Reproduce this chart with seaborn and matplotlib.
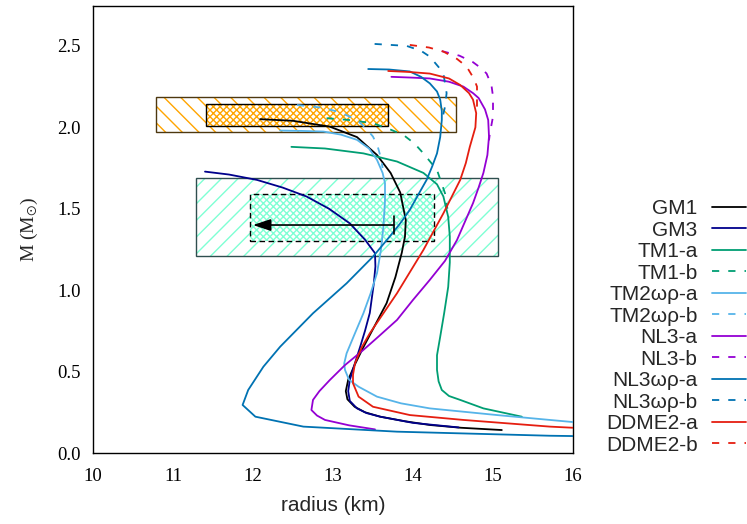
import matplotlib
matplotlib.use("Agg")
import matplotlib.pyplot as plt
import seaborn as sns
import pandas as pd
from matplotlib.patches import Rectangle

# ---------------- data (radius km, mass Msun) ----------------
GM1_r = [12.09, 12.5, 12.96, 13.3, 13.55, 13.72, 13.84, 13.91, 13.90, 13.86, 13.78, 13.67, 13.52, 13.38, 13.27, 13.19, 13.16, 13.18, 13.27, 13.40, 13.59, 13.9, 14.21, 14.6, 15.11]
GM1_m = [2.05, 2.04, 2.004, 1.94, 1.83, 1.72, 1.60, 1.43, 1.33, 1.23, 1.08, 0.92, 0.78, 0.65, 0.54, 0.45, 0.38, 0.33, 0.284, 0.25, 0.223, 0.195, 0.172, 0.155, 0.141]

GM3_r = [11.40, 11.7, 12.05, 12.37, 12.67, 12.95, 13.21, 13.40, 13.525, 13.53, 13.51, 13.46, 13.40, 13.34, 13.26, 13.21, 13.19, 13.21, 13.30, 13.42, 13.59, 14.0, 14.57]
GM3_m = [1.728, 1.71, 1.677, 1.63, 1.575, 1.50, 1.41, 1.31, 1.227, 1.145, 1.04, 0.86, 0.75, 0.653, 0.53, 0.448, 0.38, 0.32, 0.274, 0.245, 0.223, 0.185, 0.157]

TM1a_r = [12.48, 12.9, 13.38, 13.8, 14.13, 14.30, 14.38, 14.44, 14.46, 14.46, 14.44, 14.39, 14.34, 14.30, 14.30, 14.32, 14.36, 14.45, 14.59, 14.88, 15.36]
TM1a_m = [1.88, 1.87, 1.84, 1.79, 1.72, 1.65, 1.575, 1.45, 1.33, 1.17, 1.02, 0.86, 0.714, 0.60, 0.51, 0.44, 0.387, 0.35, 0.326, 0.274, 0.223]
TM1b_r = [12.92, 13.2, 13.50, 13.7, 13.88, 14.02, 14.13, 14.30, 14.40, 14.43]
TM1b_m = [2.056, 2.045, 2.025, 1.99, 1.953, 1.90, 1.84, 1.738, 1.595, 1.50]

TM2a_r = [12.34, 12.6, 12.88, 13.10, 13.30, 13.45, 13.55, 13.62, 13.65, 13.65, 13.63, 13.60, 13.55, 13.47, 13.38, 13.27, 13.17, 13.14, 13.15, 13.20, 13.32, 13.55, 13.85, 14.21, 15.05, 15.71, 16.0]
TM2a_m = [1.98, 1.978, 1.974, 1.955, 1.923, 1.87, 1.80, 1.72, 1.657, 1.55, 1.39, 1.25, 1.104, 0.98, 0.858, 0.73, 0.612, 0.55, 0.51, 0.45, 0.407, 0.346, 0.305, 0.274, 0.233, 0.203, 0.19]
TM2b_r = [12.55, 12.88, 13.10, 13.30, 13.42, 13.50, 13.56, 13.60, 13.62]
TM2b_m = [2.137, 2.12, 2.09, 2.045, 1.99, 1.943, 1.88, 1.81, 1.75]

NL3a_r = [13.73, 14.0, 14.21, 14.45, 14.63, 14.75, 14.82, 14.90, 14.94, 14.95, 14.93, 14.88, 14.82, 14.75, 14.55, 14.40, 14.21, 14.00, 13.80, 13.58, 13.38, 13.15, 12.96, 12.83, 12.75, 12.73, 12.80, 12.90, 13.2, 13.525]
NL3a_m = [2.31, 2.305, 2.30, 2.28, 2.25, 2.21, 2.18, 2.11, 2.045, 1.943, 1.83, 1.72, 1.63, 1.534, 1.308, 1.18, 1.063, 0.94, 0.817, 0.72, 0.633, 0.54, 0.448, 0.38, 0.326, 0.264, 0.23, 0.203, 0.17, 0.145]
NL3b_r = [14.36, 14.58, 14.75, 14.86, 14.92, 14.98, 15.00, 15.00, 14.96, 14.95]
NL3b_m = [2.468, 2.44, 2.40, 2.36, 2.33, 2.26, 2.19, 2.066, 1.96, 1.92]

NL3wr_a_r = [13.44, 13.70, 13.96, 14.10, 14.21, 14.30, 14.34, 14.36, 14.36, 14.34, 14.30, 14.24, 14.17, 14.07, 13.96, 13.84, 13.71, 13.50, 13.17, 12.75, 12.34, 12.13, 11.94, 11.87, 12.03, 12.63, 13.80, 15.71, 16.0]
NL3wr_a_m = [2.358, 2.355, 2.343, 2.31, 2.27, 2.22, 2.17, 2.10, 2.045, 1.94, 1.84, 1.76, 1.677, 1.59, 1.493, 1.41, 1.33, 1.206, 1.042, 0.858, 0.653, 0.53, 0.387, 0.295, 0.223, 0.162, 0.131, 0.106, 0.104]
NL3wr_b_r = [13.52, 13.92, 14.10, 14.21, 14.32, 14.38, 14.42, 14.40, 14.37]
NL3wr_b_m = [2.512, 2.50, 2.47, 2.434, 2.37, 2.33, 2.21, 2.127, 2.06]

DDME2a_r = [13.69, 13.95, 14.21, 14.45, 14.59, 14.70, 14.75, 14.79, 14.78, 14.71, 14.66, 14.59, 14.38, 14.13, 13.80, 13.46, 13.36, 13.275, 13.25, 13.25, 13.32, 13.50, 13.96, 14.63, 15.71, 16.0]
DDME2a_m = [2.346, 2.34, 2.33, 2.30, 2.26, 2.21, 2.17, 2.087, 2.00, 1.88, 1.78, 1.677, 1.472, 1.247, 0.981, 0.735, 0.65, 0.551, 0.48, 0.428, 0.346, 0.284, 0.233, 0.203, 0.162, 0.155]
DDME2b_r = [13.96, 14.20, 14.38, 14.55, 14.67, 14.76, 14.80, 14.80, 14.79]
DDME2b_m = [2.506, 2.49, 2.465, 2.42, 2.373, 2.30, 2.25, 2.127, 2.087]

labels = ["GM1", "GM3", "TM1-a", "TM1-b", "TM2ωρ-a", "TM2ωρ-b",
          "NL3-a", "NL3-b", "NL3ωρ-a", "NL3ωρ-b", "DDME2-a", "DDME2-b"]
radii = [GM1_r, GM3_r, TM1a_r, TM1b_r, TM2a_r, TM2b_r,
         NL3a_r, NL3b_r, NL3wr_a_r, NL3wr_b_r, DDME2a_r, DDME2b_r]
masses = [GM1_m, GM3_m, TM1a_m, TM1b_m, TM2a_m, TM2b_m,
          NL3a_m, NL3b_m, NL3wr_a_m, NL3wr_b_m, DDME2a_m, DDME2b_m]
colors = ["black", "#00008b", "#009e73", "#009e73", "#56b4e9", "#56b4e9",
          "#9400d3", "#9400d3", "#0072b2", "#0072b2", "#e51e10", "#e51e10"]
dashed = [False, False, False, True, False, True,
          False, True, False, True, False, True]

# constraint boxes: (r0, r1, m0, m1)
orange_outer = (10.79, 14.54, 1.972, 2.187)
orange_inner = (11.41, 13.69, 2.009, 2.144)
cyan_outer = (11.29, 15.06, 1.21, 1.689)
cyan_inner = (11.96, 14.26, 1.302, 1.591)
arrow_r = (13.76, 12.0)
arrow_m = 1.40
bar_m = (1.345, 1.456)

# ---------------- style ----------------
sns.set_theme(style="white")
plt.rcParams["font.family"] = ["Liberation Serif", "DejaVu Serif"]
plt.rcParams["mathtext.fontset"] = "stix"
plt.rcParams["hatch.linewidth"] = 1.0
plt.rcParams["axes.edgecolor"] = "black"
plt.rcParams["axes.linewidth"] = 1.0

fig = plt.figure(figsize=(7.47, 5.24), dpi=100)
ax = fig.add_axes([93 / 747, 71 / 524, 480 / 747, 447 / 524])


def add_box(box, hatch, hcolor, ecolor, ls):
    r0, r1, m0, m1 = box
    ax.add_patch(Rectangle((r0, m0), r1 - r0, m1 - m0, facecolor="white",
                           edgecolor=hcolor, hatch=hatch, lw=0, zorder=1))
    ax.add_patch(Rectangle((r0, m0), r1 - r0, m1 - m0, facecolor="none",
                           edgecolor=ecolor, lw=1.0, ls=ls, zorder=1.5))


add_box(orange_outer, "\\\\", "#ffa500", "#4d3810", "-")
add_box(orange_inner, "xxxxx", "#ffa500", "black", "-")
add_box(cyan_outer, "//", "#7fffd4", "#2f4f4f", "-")
add_box(cyan_inner, "xxxxx", "#7fffd4", "black", (0, (4, 2.5)))

for lab, r, m, c, d in zip(labels, radii, masses, colors, dashed):
    df = pd.DataFrame({"radius": r, "mass": m})
    sns.lineplot(data=df, x="radius", y="mass", sort=False, estimator=None,
                 color=c, lw=1.3, ax=ax, label=lab, zorder=3,
                 linestyle=(0, (4, 5)) if d else "-")

ax.annotate("", xy=(arrow_r[1], arrow_m), xytext=(arrow_r[0], arrow_m),
            arrowprops=dict(arrowstyle="-|>,head_length=0.9,head_width=0.3",
                            color="black", lw=1.2, mutation_scale=12,
                            shrinkA=0, shrinkB=0), zorder=4)
ax.plot([arrow_r[0], arrow_r[0]], list(bar_m), color="black", lw=1.2, zorder=4)

ax.set_xlim(10, 16)
ax.set_ylim(0, 2.745)
ax.set_xticks([10, 11, 12, 13, 14, 15, 16])
ax.set_yticks([0.0, 0.5, 1.0, 1.5, 2.0, 2.5])
ax.set_yticklabels(["0.0", "0.5", "1.0", "1.5", "2.0", "2.5"])
ax.tick_params(direction="in", length=6, width=1, top=False, right=False,
               labelsize=13.5, colors="black")
ax.tick_params(axis="x", pad=11)
ax.tick_params(axis="y", pad=9)
for s in ax.spines.values():
    s.set_visible(True)
    s.set_color("black")

ax.set_xlabel("radius (km)", fontsize=15, family=["Liberation Sans"], labelpad=8)
ax.set_ylabel(r"M (M$_{\odot}$)", fontsize=14, labelpad=12)

handles, labs = ax.get_legend_handles_labels()
ax.get_legend().remove()
fig.legend(handles, labs, loc="center right", bbox_to_anchor=(0.998, 0.376),
           frameon=False, markerfirst=False, handlelength=1.6,
           handletextpad=0.7, labelspacing=0.12, borderpad=0, borderaxespad=0,
           prop={"family": "Liberation Sans", "size": 15})

fig.savefig("out.png", dpi=100)
